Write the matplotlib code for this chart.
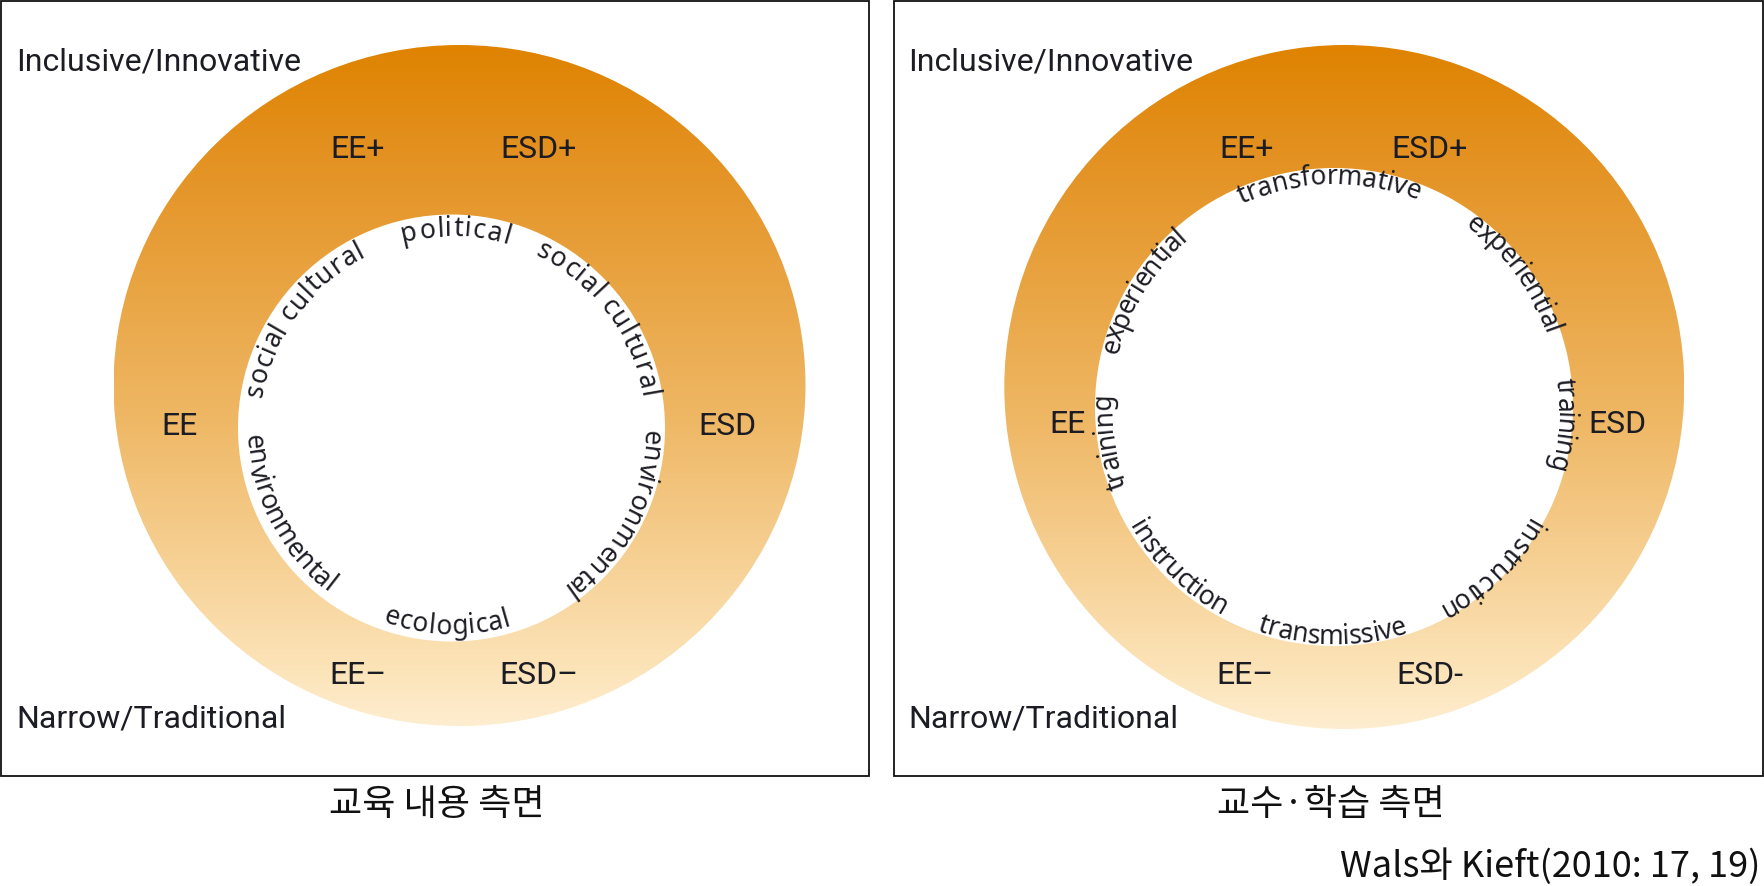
import numpy as np
import matplotlib
matplotlib.use("Agg")
import matplotlib.pyplot as plt
from matplotlib.patches import Ellipse, Circle, Rectangle
from matplotlib.colors import LinearSegmentedColormap
from matplotlib.font_manager import FontProperties

# figure is laid out in pixel units (y up), 1 unit = 1 px at dpi 100
W, H = 1764, 886

LABEL_FONT = "Roboto"
ARC_FONT = "Noto Sans"
KR_FONT = ["Noto Sans CJK KR", "DejaVu Sans"]
INK = "#1c1c24"

# ---- texts ----
corner_top = "Inclusive/Innovative"
corner_bottom = "Narrow/Traditional"
left_ring_labels = ["EE+", "ESD+", "EE", "ESD", "EE–", "ESD–"]
right_ring_labels = ["EE+", "ESD+", "EE", "ESD", "EE–", "ESD-"]
captions = ["교육 내용 측면", "교수·학습 측면"]
source = "Wals와 Kieft(2010: 17, 19)"

# curved words inside the ring: word, angle of first / last letter (deg), letters pointing outward?
left_arc_words = ["political", "social cultural", "social cultural",
                  "environmental", "environmental", "ecological"]
left_arc_start = [102.4, 169.0, 62.6, -2.7, 184.1, 252.5]
left_arc_end = [73.8, 117.5, 9.9, -54.5, 232.2, 286.0]
left_arc_out = [True, True, True, True, False, False]

right_arc_words = ["transformative", "experiential", "experiential", "training",
                   "training", "instruction", "transmissive", "instruction"]
right_arc_start = [113.3, 164.7, 52.2, 5.9, 199.5, 211.0, 252.2, -30.4]
right_arc_end = [69.9, 131.8, 19.7, -14.2, 178.6, 239.8, 286.4, -60.8]
right_arc_out = [True, True, True, True, True, False, False, True]

# ---- layout ----
panels = [
    dict(box=(1, 110, 868, 775), outer=(459.5, 500.5, 692, 681), inner=(451.5, 458, 213.5),
         r_text=199, corner_x=16,
         label_pos=[(358, 728.5), (539, 728.5), (180, 451.5), (727, 451.5), (358, 202), (539, 202)],
         labels=left_ring_labels, words=left_arc_words, a0=left_arc_start, a1=left_arc_end,
         out=left_arc_out, caption_x=437),
    dict(box=(894, 110, 869, 775), outer=(1344.3, 499, 680, 684), inner=(1334, 479, 239),
         r_text=230, corner_x=908,
         label_pos=[(1246.5, 728.5), (1430, 728.5), (1068, 453), (1617, 453), (1245, 202), (1429.5, 202)],
         labels=right_ring_labels, words=right_arc_words, a0=right_arc_start, a1=right_arc_end,
         out=right_arc_out, caption_x=1331),
]

ring_cmap = LinearSegmentedColormap.from_list(
    "ring", [(0.0, "#FEEDCF"), (0.08, "#FCE4B9"), (0.445, "#EFB866"),
             (0.853, "#E3901F"), (1.0, "#DF8300")])

fig = plt.figure(figsize=(W / 100, H / 100), dpi=100)
ax = fig.add_axes([0, 0, 1, 1])
renderer = fig.canvas.get_renderer()


def text_width(s, prop):
    w, _, _ = renderer.get_text_width_height_descent("|" + s + "|", prop, ismath=False)
    w0, _, _ = renderer.get_text_width_height_descent("||", prop, ismath=False)
    return w - w0


def arc_text(word, cx, cy, r_mid, a_first, a_last, outward, size=19):
    prop = FontProperties(family=ARC_FONT, size=size)
    edges = [text_width(word[:i], prop) for i in range(len(word) + 1)]
    mids = [(edges[i] + edges[i + 1]) / 2 for i in range(len(word))]
    xh = 0.54 * size * 100 / 72
    r_base = r_mid - xh / 2 if outward else r_mid + xh / 2
    for ch, m in zip(word, mids):
        if ch == " ":
            continue
        t = (m - mids[0]) / (mids[-1] - mids[0])
        a = np.radians(a_first + t * (a_last - a_first))
        rot = np.degrees(a) - 90 if outward else np.degrees(a) + 90
        ax.text(cx + r_base * np.cos(a), cy + r_base * np.sin(a), ch,
                rotation=rot, rotation_mode="anchor", ha="center", va="baseline",
                fontproperties=prop, color=INK, zorder=5)


grad = np.linspace(0, 1, 512).reshape(-1, 1)

for p in panels:
    bx, by, bw, bh = p["box"]
    ax.add_patch(Rectangle((bx, by), bw, bh, fill=False, lw=1.3, ec="#111111", zorder=6))

    ox, oy, ow, oh = p["outer"]
    ell = Ellipse((ox, oy), ow, oh, fc="none", ec="none")
    ax.add_patch(ell)
    im = ax.imshow(grad, cmap=ring_cmap, origin="lower", aspect="auto", interpolation="bicubic",
                   extent=[ox - ow / 2, ox + ow / 2, oy - oh / 2, oy + oh / 2], zorder=1)
    im.set_clip_path(ell)

    ix, iy, ir = p["inner"]
    ax.add_patch(Circle((ix, iy), ir, fc="white", ec="none", zorder=2))

    for s, (x, y) in zip(p["labels"], p["label_pos"]):
        ax.text(x, y, s, ha="center", va="baseline", fontsize=23, family=LABEL_FONT,
                color=INK, zorder=5)
    ax.text(p["corner_x"], 816, corner_top, ha="left", va="baseline", fontsize=23,
            family=LABEL_FONT, color=INK, zorder=5)
    ax.text(p["corner_x"], 158, corner_bottom, ha="left", va="baseline", fontsize=23,
            family=LABEL_FONT, color=INK, zorder=5)

    for w, a0, a1, o in zip(p["words"], p["a0"], p["a1"], p["out"]):
        arc_text(w, ix, iy, p["r_text"], a0, a1, o)

for p, cap in zip(panels, captions):
    ax.text(p["caption_x"], 80.5, cap, ha="center", va="center", fontsize=26,
            family=KR_FONT, color="#111111")
ax.text(1761, 19, source, ha="right", va="center", fontsize=26, family=KR_FONT, color="#111111")

ax.set_xlim(0, W)
ax.set_ylim(0, H)
ax.axis("off")
fig.savefig("out.png", dpi=100)
